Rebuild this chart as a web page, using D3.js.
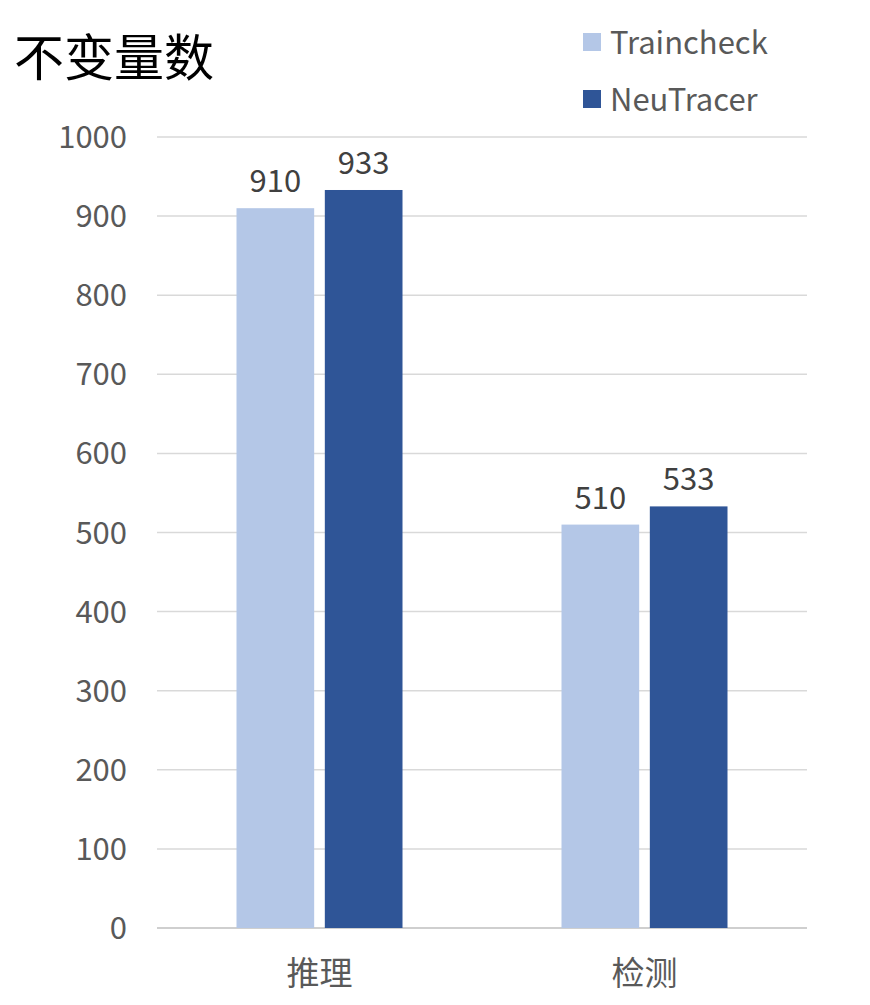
<!DOCTYPE html>
<html><head><meta charset="utf-8">
<script src="https://cdn.jsdelivr.net/npm/d3@7"></script>
<style>body{margin:0;background:#fff}text{font-family:"Noto Sans CJK SC","Noto Sans",sans-serif}</style>
</head><body><svg width="870" height="1005"></svg>
<script>
const categories = ['推理', '检测'];
const seriesNames = ['Traincheck', 'NeuTracer'];
const traincheck = [910, 510];
const neutracer = [933, 533];
const yTicks = [0, 100, 200, 300, 400, 500, 600, 700, 800, 900, 1000];
const colors = ['#B4C7E7', '#2F5597'];

const svg = d3.select('svg');
const x = d3.scaleBand().domain(categories).range([157, 807]);
const y = d3.scaleLinear().domain([0, 1000]).range([928, 137]);
const inner = d3.scaleBand().domain(seriesNames).range([x.bandwidth() / 2 - 83, x.bandwidth() / 2 + 83]).paddingInner(20 / 166);

// gridlines
svg.selectAll('.grid').data(yTicks).enter().append('line')
  .attr('x1', 157).attr('x2', 807)
  .attr('y1', d => y(d)).attr('y2', d => y(d))
  .attr('stroke', d => d === 0 ? '#bfbfbf' : '#d9d9d9').attr('stroke-width', 1.5);

svg.selectAll('.ytick').data(yTicks).enter().append('text')
  .attr('x', 127).attr('y', d => y(d) + 11).attr('text-anchor', 'end')
  .attr('font-size', 31).attr('fill', '#595959').text(d => d);

const series = [traincheck, neutracer];
series.forEach((vals, si) => {
  const g = svg.append('g');
  g.selectAll('rect').data(vals).enter().append('rect')
    .attr('x', (d, i) => x(categories[i]) + inner(seriesNames[si]))
    .attr('width', inner.bandwidth())
    .attr('y', d => y(d)).attr('height', d => y(0) - y(d))
    .attr('fill', colors[si]);
  g.selectAll('text').data(vals).enter().append('text')
    .attr('x', (d, i) => x(categories[i]) + inner(seriesNames[si]) + inner.bandwidth() / 2)
    .attr('y', d => y(d) - 16).attr('text-anchor', 'middle')
    .attr('font-size', 31).attr('fill', '#404040').text(d => d);
});

svg.selectAll('.cat').data(categories).enter().append('text')
  .attr('x', d => x(d) + x.bandwidth() / 2).attr('y', 985).attr('text-anchor', 'middle')
  .attr('font-size', 33).attr('fill', '#595959').text(d => d);

svg.append('text').attr('x', 14).attr('y', 76).attr('font-size', 50).attr('fill', '#000').text('不变量数');

seriesNames.forEach((s, i) => {
  svg.append('rect').attr('x', 583).attr('y', 33 + i * 57).attr('width', 18).attr('height', 18).attr('fill', colors[i]);
  svg.append('text').attr('x', 610).attr('y', 54 + i * 57).attr('font-size', 31).attr('fill', '#595959').text(s);
});
</script></body></html>
